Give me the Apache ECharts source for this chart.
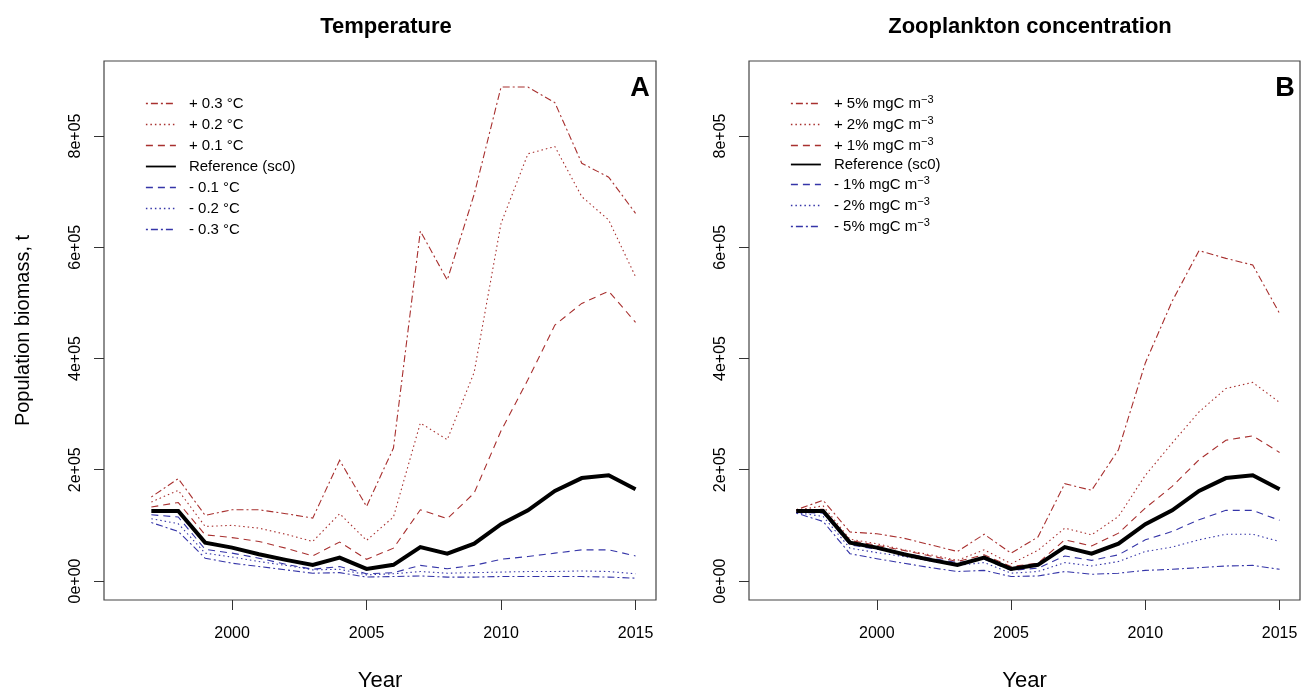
<!DOCTYPE html>
<html><head><meta charset="utf-8">
<script src="https://cdn.jsdelivr.net/npm/echarts@6/dist/echarts.min.js"></script>
<style>html,body{margin:0;padding:0;background:#fff}#c{width:1306px;height:694px}</style>
</head><body><div id="c"></div>
<script>
const years = [1997,1998,1999,2000,2001,2002,2003,2004,2005,2006,2007,2008,2009,2010,2011,2012,2013,2014,2015];
const xTicks = [2000,2005,2010,2015];
const yTicks = [0,200000,400000,600000,800000];
const yTickLabels = ['0e+00','2e+05','4e+05','6e+05','8e+05'];

const reference = [126000,126000,69000,60000,48000,38000,29000,42000,21600,29000,61000,49000,67000,102000,127000,162000,185000,190000,165000];

const tempNames = ['+ 0.3 °C','+ 0.2 °C','+ 0.1 °C','Reference (sc0)','- 0.1 °C','- 0.2 °C','- 0.3 °C'];
const tempP03 = [151000,184000,118000,128000,128000,121000,113000,217000,134000,239000,629000,541000,695000,888000,888000,860000,751000,726000,661000];
const tempP02 = [142000,163000,98000,100000,95000,84000,71000,121000,73000,115000,284000,254000,375000,643000,768000,781000,691000,649000,547000];
const tempP01 = [133000,141000,83000,78000,71000,59000,45000,70000,39000,59000,128000,112000,158000,270000,362000,460000,499000,521000,465000];
const tempM01 = [119000,115000,57000,50000,41000,30000,21000,26000,13000,15000,28000,22000,28000,39000,44000,50000,56000,56000,45000];
const tempM02 = [112000,103000,50000,43000,35000,28000,20000,21000,11000,13000,17000,14000,15000,16000,17000,17000,18000,17000,13000];
const tempM03 = [105000,89000,41000,32000,26000,20000,14000,15000,7000,8000,9000,7000,7000,8000,8000,8000,8000,7000,5000];

const zooNames = ['+ 5% mgC m⁻³','+ 2% mgC m⁻³','+ 1% mgC m⁻³','Reference (sc0)','- 1% mgC m⁻³','- 2% mgC m⁻³','- 5% mgC m⁻³'];
const zooP05 = [128000,145000,88000,85000,77000,65000,53000,84000,50000,79000,175000,163000,236000,392000,503000,594000,580000,568000,481000];
const zooP02 = [127000,135000,75000,67000,56000,47000,37000,56000,31000,55000,95000,83000,116000,190000,248000,304000,346000,357000,321000];
const zooP01 = [126000,129000,73000,64000,55000,45000,35000,47000,26000,32000,74000,63000,86000,131000,170000,218000,253000,261000,231000];
const zooM01 = [123000,122000,65000,57000,50000,41000,33000,39000,19000,23000,45000,37000,47000,74000,89000,110000,127000,127000,109000];
const zooM02 = [123000,116000,59000,51000,44000,36000,28000,33000,14000,17000,33000,27000,35000,53000,61000,74000,84000,84000,71000];
const zooM05 = [122000,107000,49000,40000,32000,24000,17000,19000,8000,9000,17000,12000,14000,19000,21000,24000,27000,28000,21000];

const RED = '#a8302f', BLUE = '#3535a8';
const DOTDASH = [2,3,7,3], DOTTED = [1.5,3], DASHED = [7,5];
const styles = [
  {c:RED, t:DOTDASH, w:1.1},{c:RED, t:DOTTED, w:1.1},{c:RED, t:DASHED, w:1.1},
  {c:'#000', t:'solid', w:4},
  {c:BLUE, t:DASHED, w:1.1},{c:BLUE, t:DOTTED, w:1.1},{c:BLUE, t:DOTDASH, w:1.1}
];
const FONT = 'Liberation Sans';

function mkSeries(names, arrays, idx){
  return names.map((n,i)=>({
    name:n, type:'line', xAxisIndex:idx, yAxisIndex:idx, symbol:'none', silent:true,
    data: years.map((y,k)=>[y, arrays[i][k]]),
    lineStyle:{color:styles[i].c, type:styles[i].t, width:styles[i].w, join:'miter'},
    itemStyle:{color:styles[i].c},
    z: i===3 ? 5 : 3, animation:false
  }));
}
function mkLegend(names, left, top, gap){
  return {
    orient:'vertical', left:left, top:top, itemWidth:30, itemHeight:14, itemGap:gap,
    selectedMode:false, itemStyle:{opacity:0},
    data: names.map((n,i)=>({name:n, lineStyle:{width: i===3?1.8:1.6, color:styles[i].c, type:styles[i].t}})),
    formatter: n => n.indexOf('⁻³')>=0 ? '{t|'+n.replace('⁻³','')+'}{s|−3}' : '{t|'+n+'}',
    textStyle:{fontFamily:FONT, fontSize:15, color:'#000', padding:[0,0,0,8],
      rich:{t:{fontFamily:FONT,fontSize:15,lineHeight:17,color:'#000'}, s:{fontFamily:FONT,fontSize:11,lineHeight:11,color:'#000',verticalAlign:'bottom',padding:[0,0,7,0]}}}
  };
}
function mkX(gridIdx){
  return {type:'value', gridIndex:gridIdx, min:1995.24, max:2015.76,
    name:'Year', nameLocation:'middle', nameGap:70,
    nameTextStyle:{fontFamily:FONT, fontSize:22, color:'#000'},
    axisLine:{show:false, onZero:false}, splitLine:{show:false},
    axisTick:{show:true, length:10, inside:false, customValues:xTicks, lineStyle:{color:'#333'}},
    axisLabel:{customValues:xTicks, margin:26, fontFamily:FONT, fontSize:16, color:'#000', formatter:v=>String(v)}
  };
}
function mkY(gridIdx, withName){
  return {type:'value', gridIndex:gridIdx, min:-34200, max:934800,
    name: withName ? 'Population biomass, t' : '', nameLocation:'middle', nameGap:71, nameRotate:90,
    nameTextStyle:{fontFamily:FONT, fontSize:20, color:'#000'},
    axisLine:{show:false, onZero:false}, splitLine:{show:false},
    axisTick:{show:true, length:10, customValues:yTicks, lineStyle:{color:'#333'}},
    axisLabel:{customValues:yTicks, rotate:90, margin:20, fontFamily:FONT, fontSize:16, color:'#000',
      formatter:v=>{const i=yTicks.indexOf(v); return i>=0?yTickLabels[i]:'';}}
  };
}

const chart = echarts.init(document.getElementById('c'), null, {renderer:'canvas'});
chart.setOption({
  backgroundColor:'#fff',
  animation:false,
  title:[
    {text:'Temperature', left:381, top:11, textAlign:'center', textStyle:{fontFamily:FONT, fontSize:22, fontWeight:'bold', color:'#000'}},
    {text:'Zooplankton concentration', left:1025, top:11, textAlign:'center', textStyle:{fontFamily:FONT, fontSize:22, fontWeight:'bold', color:'#000'}},
    {text:'A', left:635, top:70, textAlign:'center', textStyle:{fontFamily:FONT, fontSize:27, fontWeight:'bold', color:'#000'}},
    {text:'B', left:1280, top:70, textAlign:'center', textStyle:{fontFamily:FONT, fontSize:27, fontWeight:'bold', color:'#000'}}
  ],
  grid:[
    {left:104, top:61, width:552, height:539, show:true, borderColor:'#444', borderWidth:1.2, backgroundColor:'transparent', outerBoundsMode:'none', containLabel:false},
    {left:749, top:61, width:551, height:539, show:true, borderColor:'#444', borderWidth:1.2, backgroundColor:'transparent', outerBoundsMode:'none', containLabel:false}
  ],
  xAxis:[mkX(0), mkX(1)],
  yAxis:[mkY(0,true), mkY(1,false)],
  legend:[mkLegend(tempNames,140,91,6), mkLegend(zooNames,785,89,3)],
  series:[].concat(
    mkSeries(tempNames,[tempP03,tempP02,tempP01,reference,tempM01,tempM02,tempM03],0),
    mkSeries(zooNames,[zooP05,zooP02,zooP01,reference,zooM01,zooM02,zooM05],1)
  )
});
</script></body></html>
